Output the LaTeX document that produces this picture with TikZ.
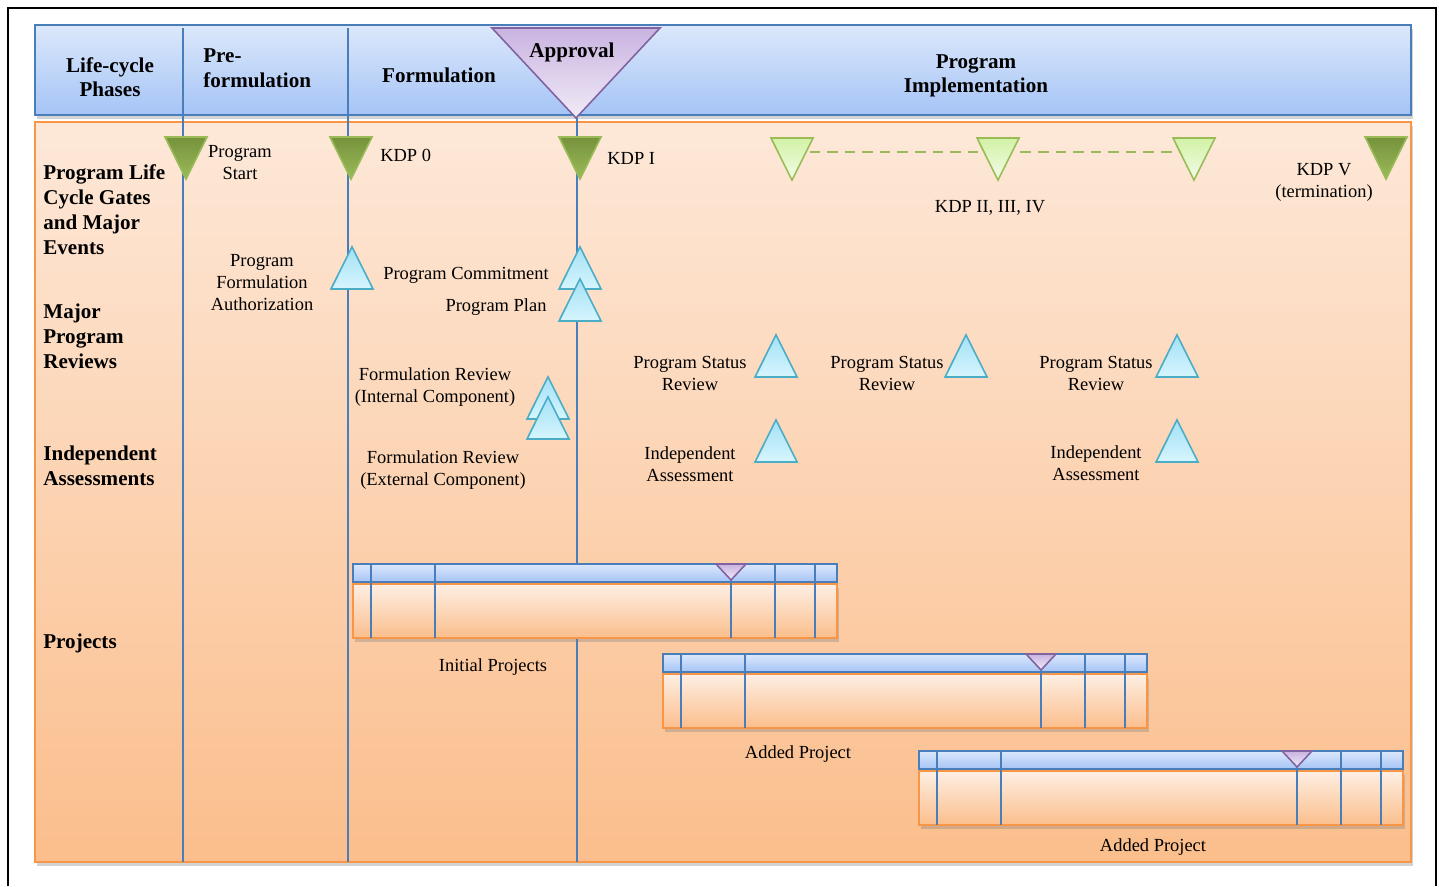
\documentclass[tikz,border=0pt]{standalone}
\usepackage{fontspec}
\setmainfont{Liberation Serif}
\usetikzlibrary{shapes.geometric}
\usetikzlibrary{shadows}

\definecolor{linea}{HTML}{4A7EBB}
\definecolor{azulA}{HTML}{DCE8FB}
\definecolor{azulB}{HTML}{A5C4F6}
\definecolor{naranja}{HTML}{F79646}
\definecolor{naranjaA}{HTML}{FDE8D8}
\definecolor{naranjaB}{HTML}{FBBE8C}
\definecolor{verdeA}{HTML}{76923C}
\definecolor{verdeB}{HTML}{9BBB59}
\definecolor{verdeC}{HTML}{D2F2A6}
\definecolor{verdeD}{HTML}{F3FCE8}
\definecolor{cian}{HTML}{4BACC6}
\definecolor{cianA}{HTML}{A3E1F6}
\definecolor{cianB}{HTML}{D6F5FD}
\definecolor{morado}{HTML}{8064A2}
\definecolor{moradoA}{HTML}{C9B3E0}
\definecolor{moradoB}{HTML}{F1EBF8}

\begin{document}
\begin{tikzpicture}[x=0.02cm, y=-0.02cm,
    hdr/.style={font=\fontsize{12}{14}\selectfont\bfseries, align=center, inner sep=0pt},
    lane/.style={font=\fontsize{12}{14.2}\selectfont\bfseries, align=left, anchor=west, inner sep=0pt},
    note/.style={font=\fontsize{10.5}{12.5}\selectfont, align=center, inner sep=0pt},
    tri/.style={isosceles triangle, isosceles triangle apex angle=53, minimum size=0.84cm, inner sep=0pt, line width=0.9pt},
    kdp/.style={tri, shape border rotate=270, draw=verdeB, top color=verdeA, bottom color=verdeB},
    kdpx/.style={tri, shape border rotate=270, draw=verdeB, top color=verdeC, bottom color=verdeD},
    rev/.style={tri, shape border rotate=90, draw=cian, top color=cianA, bottom color=cianB},
    fase/.style={draw=linea, line width=1.1pt},
    sombra/.style={drop shadow={opacity=0.35, shadow xshift=1pt, shadow yshift=-2pt}}]
  \useasboundingbox (0,0) rectangle (1439,886);

  % Marco y fondo
  \draw[line width=1.2pt] (8,886) -- (8,8) -- (1436,8) -- (1436,886);
  \draw[draw=linea, line width=0.9pt, top color=azulA, bottom color=azulB, sombra] (35,25) rectangle (1411,115);
  \draw[draw=naranja, line width=0.9pt, top color=naranjaA, bottom color=naranjaB, sombra] (35,122) rectangle (1411,862);

  % Fases
  \draw[fase] (183,28) -- (183,862);
  \draw[fase] (348,28) -- (348,862);
  \draw[fase] (577,118) -- (577,862);
  \draw[draw=morado, line width=0.9pt, top color=moradoA, bottom color=moradoB] (492,28) -- (660,28) -- (576,118) -- cycle;

  \node[hdr] (ciclo) at (110,77) {Life-cycle\\Phases};
  \node[hdr, align=left, anchor=west] (prefor) at (203,68) {Pre-\\formulation};
  \node[hdr] (formul) at (439,75) {Formulation};
  \node[hdr] (aprob) at (572,52) {Approval};
  \node[hdr] (implem) at (976,76) {Program\\Implementation};

  % Carriles
  \node[lane] (gates) at (43,210) {Program Life\\Cycle Gates\\and Major\\Events};
  \node[lane] (reviews) at (43,336) {Major\\Program\\Reviews};
  \node[lane] (indep) at (43,466) {Independent\\Assessments};
  \node[lane] (proj) at (43,643) {Projects};

  % Hitos
  \coordinate (g2) at (792,152);
  \coordinate (g3) at (998,152);
  \coordinate (g4) at (1194,152);
  \draw[verdeB, line width=0.9pt, dash pattern=on 6pt off 4pt] (g2) -- (g3) -- (g4);

  \node[kdp] (start) at (186,150) {};
  \node[kdp] (kdp0) at (351,150) {};
  \node[kdp] (kdp1) at (580,150) {};
  \node[kdp] (kdp5) at (1386,150) {};
  \node[kdpx] (kdp2) at (792,151) {};
  \node[kdpx] (kdp3) at (998,151) {};
  \node[kdpx] (kdp4) at (1194,151) {};

  \node[note] (tstart) at (240,163) {Program\\Start};
  \node[note, anchor=west] (tkdp0) at (380,155) {KDP 0};
  \node[note, anchor=west] (tkdp1) at (607,158) {KDP I};
  \node[note] (tkdpx) at (990,208) {KDP II, III, IV};
  \node[note] (tkdp5) at (1324,182) {KDP V\\(termination)};

  % Revisiones
  \node[rev] (auth) at (352,276) {};
  \node[rev] (commit) at (580,276) {};
  \node[rev] (plan) at (580,308) {};
  \node[rev] (frint) at (548,406) {};
  \node[rev] (frext) at (548,426) {};
  \node[rev] (psr1) at (776,364) {};
  \node[rev] (psr2) at (966,364) {};
  \node[rev] (psr3) at (1177,364) {};
  \node[rev] (ia1) at (776,449) {};
  \node[rev] (ia2) at (1177,449) {};

  \node[note] (tauth) at (262,283) {Program\\Formulation\\Authorization};
  \node[note] (tcommit) at (466,275) {Program Commitment};
  \node[note] (tplan) at (496,307) {Program Plan};
  \node[note] (tfrint) at (435,387) {Formulation Review\\(Internal Component)};
  \node[note] (tfrext) at (443,470) {Formulation Review\\(External Component)};
  \node[note] (tpsr1) at (690,373) {Program Status\\Review};
  \node[note] (tpsr2) at (887,373) {Program Status\\Review};
  \node[note] (tpsr3) at (1096,373) {Program Status\\Review};
  \node[note] (tia1) at (690,464) {Independent\\Assessment};
  \node[note] (tia2) at (1096,463) {Independent\\Assessment};

  % Proyectos
  \foreach \bx/\by in {353/564, 663/654, 919/751} {
    \draw[draw=naranja, line width=0.9pt, top color=naranjaA!70!white, bottom color=naranjaB, sombra] (\bx,\by+20) rectangle (\bx+484,\by+74);
    \draw[draw=linea, line width=0.9pt, top color=azulA, bottom color=azulB] (\bx,\by) rectangle (\bx+484,\by+18);
    \foreach \d in {18,82,378,422,462}
      \draw[linea, line width=0.9pt] (\bx+\d,\by) -- (\bx+\d,\by+74);
    \draw[draw=morado, line width=0.9pt, top color=moradoA, bottom color=moradoB] (\bx+363,\by) -- (\bx+393,\by) -- (\bx+378,\by+16) -- cycle;
  }
  \node[note] (tinit) at (493,667) {Initial Projects};
  \node[note] (tadd1) at (798,754) {Added Project};
  \node[note] (tadd2) at (1153,847) {Added Project};
\end{tikzpicture}
\end{document}
